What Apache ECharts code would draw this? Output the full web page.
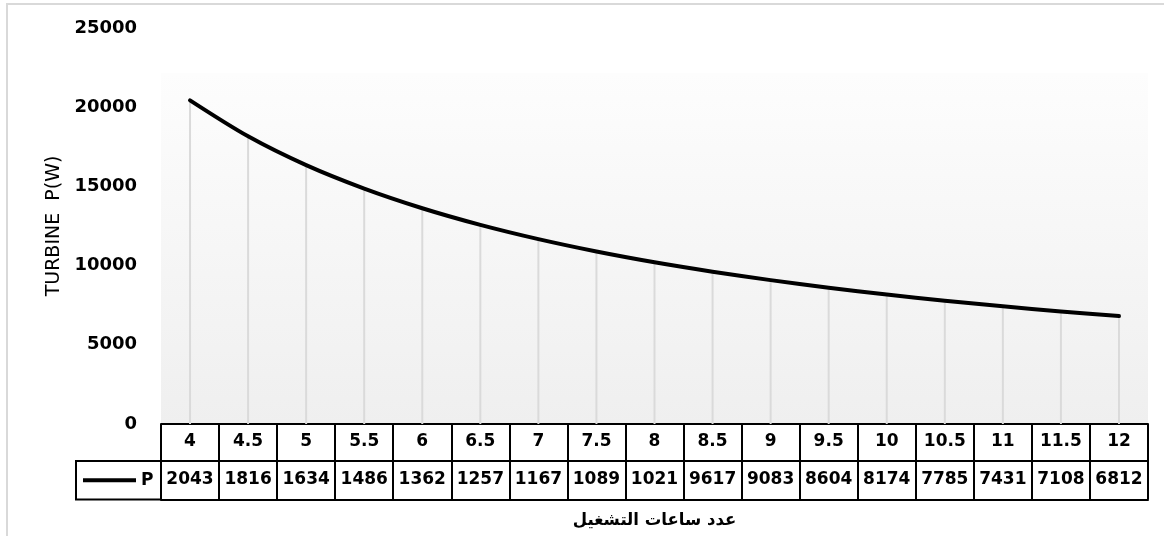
<!DOCTYPE html>
<html>
<head>
<meta charset="utf-8">
<script src="https://cdn.jsdelivr.net/npm/echarts@6/dist/echarts.min.js"></script>
<style>
  html, body { margin: 0; padding: 0; background: #fff; }
  #chart { width: 1164px; height: 536px; }
</style>
</head>
<body>
<div id="chart"></div>
<script>
// Operating hours (category axis) and turbine power in watts
const hours = ['4', '4.5', '5', '5.5', '6', '6.5', '7', '7.5', '8', '8.5', '9', '9.5', '10', '10.5', '11', '11.5', '12'];
const power = [20430, 18160, 16340, 14860, 13620, 12570, 11670, 10890, 10210, 9617, 9083, 8604, 8174, 7785, 7431, 7108, 6812];
const seriesName = 'P';
const yTitle = 'TURBINE  P(W)';
const xTitle = 'عدد ساعات التشغيل';

// The data table cells are narrow, so only the first four digits show
const tableText = power.map(v => String(v).slice(0, 4));

const FONT = 'DejaVu Sans';
const GRID = { left: 161, right: 16, top: 28, bottom: 112 };
const ROW1 = 37;   // height of the category row
const ROW2 = 38.5; // height of the value row

const chart = echarts.init(document.getElementById('chart'), null, { renderer: 'canvas' });

const tableLine = { show: true, lineStyle: { color: '#000', width: 2 } };

const option = {
  animation: false,
  backgroundColor: '#fff',
  grid: {
    left: GRID.left, right: GRID.right, top: GRID.top, bottom: GRID.bottom,
    show: true, borderWidth: 0,
    backgroundColor: {
      type: 'linear', x: 0, y: 0, x2: 0, y2: 1,
      colorStops: [
        { offset: 0, color: '#ffffff' },
        { offset: 0.113, color: '#ffffff' },
        { offset: 0.115, color: '#fdfdfd' },
        { offset: 1, color: '#efefef' }
      ]
    }
  },
  xAxis: [
    {
      type: 'category', data: hours, position: 'bottom', boundaryGap: true,
      axisLine: tableLine,
      axisTick: { show: true, interval: 0, length: ROW1, lineStyle: { color: '#000', width: 2 } },
      axisLabel: { interval: 0, margin: 9, color: '#000', fontFamily: FONT, fontWeight: 'bold', fontSize: 17 },
      splitLine: { show: false }
    },
    {
      type: 'category', data: hours, position: 'bottom', offset: ROW1, boundaryGap: true,
      axisLine: tableLine,
      axisTick: { show: true, interval: 0, length: ROW2, lineStyle: { color: '#000', width: 2 } },
      axisLabel: {
        interval: 0, margin: 10, color: '#000', fontFamily: FONT, fontWeight: 'bold', fontSize: 17,
        formatter: (v, i) => tableText[i]
      },
      splitLine: { show: false }
    },
    {
      type: 'category', data: hours, position: 'bottom', offset: ROW1 + ROW2, boundaryGap: true,
      axisLine: tableLine,
      axisTick: { show: false },
      axisLabel: { show: false },
      name: xTitle, nameLocation: 'middle', nameGap: 13,
      nameTextStyle: { color: '#000', fontFamily: FONT, fontWeight: 'bold', fontSize: 16.5 }
    }
  ],
  yAxis: {
    type: 'value', min: 0, max: 25000, interval: 5000,
    axisLine: { show: false }, axisTick: { show: false },
    splitLine: { show: false },
    axisLabel: {
      margin: 24, color: '#000', fontFamily: FONT, fontWeight: 'bold', fontSize: 18,
      formatter: v => String(v)
    },
    name: yTitle, nameLocation: 'middle', nameGap: 91,
    nameTextStyle: { color: '#000', fontFamily: FONT, fontSize: 19 }
  },
  series: [
    {
      // drop lines from each point down to the axis
      type: 'bar', data: power, xAxisIndex: 0, barWidth: 2, z: 1,
      itemStyle: { color: '#dadada' }, silent: true
    },
    {
      name: seriesName, type: 'line', data: power, xAxisIndex: 0, z: 3,
      smooth: 0.3, symbol: 'none',
      lineStyle: { color: '#000', width: 4, cap: 'round', join: 'round' }
    }
  ]
};

chart.setOption(option);

// Legend key cell to the left of the value row, plus the outer chart frame
const gridBottom = 536 - GRID.bottom;
const rowTop = gridBottom + ROW1;
const keyLeft = 76;
chart.setOption({
  graphic: [
    {
      type: 'rect', z: 100,
      shape: { x: 7, y: 4, width: 1200, height: 600 },
      style: { fill: 'none', stroke: '#d9d9d9', lineWidth: 2 }
    },
    {
      type: 'rect', z: 100,
      shape: { x: keyLeft, y: rowTop, width: GRID.left - keyLeft, height: ROW2 },
      style: { fill: 'none', stroke: '#000', lineWidth: 2 }
    },
    {
      type: 'line', z: 100,
      shape: { x1: keyLeft + 7, y1: rowTop + ROW2 / 2, x2: keyLeft + 60, y2: rowTop + ROW2 / 2 },
      style: { stroke: '#000', lineWidth: 4 }
    },
    {
      type: 'text', z: 100,
      x: keyLeft + 65, y: rowTop + ROW2 / 2,
      style: {
        text: seriesName, fill: '#000', font: 'bold 17px "DejaVu Sans"',
        textAlign: 'left', textVerticalAlign: 'middle'
      }
    }
  ]
});
</script>
</body>
</html>
